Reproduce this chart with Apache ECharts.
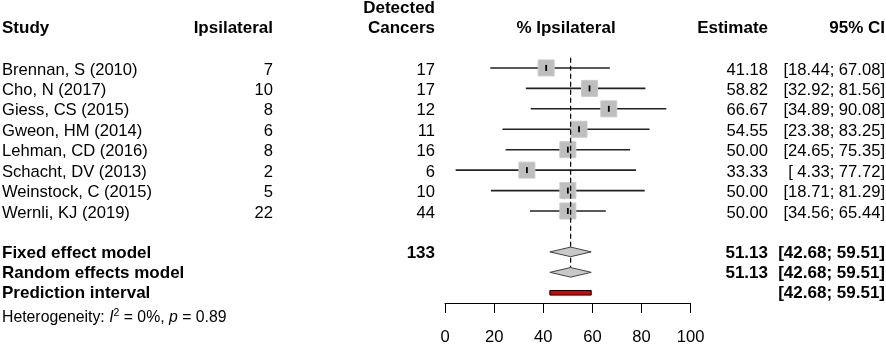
<!DOCTYPE html>
<html><head><meta charset="utf-8">
<script src="https://cdn.jsdelivr.net/npm/echarts@6/dist/echarts.min.js"></script>
<style>html,body{margin:0;padding:0;background:#fff}#c{width:886px;height:346px}</style>
</head><body><div id="c"></div><script>
// ---- data ----
const studies = ['Brennan, S (2010)', 'Cho, N (2017)', 'Giess, CS (2015)', 'Gweon, HM (2014)', 'Lehman, CD (2016)', 'Schacht, DV (2013)', 'Weinstock, C (2015)', 'Wernli, KJ (2019)'];
const ipsilateral = [7, 10, 8, 6, 8, 2, 5, 22];
const detected = [17, 17, 12, 11, 16, 6, 10, 44];
const estimate = [41.18, 58.82, 66.67, 54.55, 50.00, 33.33, 50.00, 50.00];
const ciLower = [18.44, 32.92, 34.89, 23.38, 24.65, 4.33, 18.71, 34.56];
const ciUpper = [67.08, 81.56, 90.08, 83.25, 75.35, 77.72, 81.29, 65.44];
const summaryLabels = ['Fixed effect model', 'Random effects model', 'Prediction interval'];
const summaryTotal = [133, null, null];
const summaryEstimate = [51.13, 51.13, null];
const summaryLower = [42.68, 42.68, 42.68];
const summaryUpper = [59.51, 59.51, 59.51];
const xTicks = [0, 20, 40, 60, 80, 100];
const i2Percent = 0;
const pValue = 0.89;

// ---- helpers ----
const FONT = '"Liberation Sans", Arial, sans-serif';
const FS = 16.6, FSB = 17;
function f2(v) { return (v < 10 ? ' ' : '') + v.toFixed(2); }
function ci(l, u) { return '[' + f2(l) + '; ' + f2(u) + ']'; }
function txt(x, y, s, align, bold) {
  return { type: 'text', x: x, y: y, style: { text: s, fontFamily: FONT, fontSize: bold ? FSB : FS, fontWeight: bold ? 'bold' : 'normal', fill: '#000', align: align, verticalAlign: 'middle' } };
}
const COL_STUDY = 2, COL_IPS = 273, COL_DET = 435, COL_EST = 768, COL_CI = 885;
const TXT_DY = 2;

const studyData = studies.map((s, i) => [estimate[i], i + 1, ciLower[i], ciUpper[i], i]);
const summaryRows = [10, 11, 12];
const summaryData = summaryLabels.map((s, i) => [summaryEstimate[i] == null ? 0 : summaryEstimate[i], summaryRows[i], summaryLower[i], summaryUpper[i], i]);

const chart = echarts.init(document.getElementById('c'), null, { renderer: 'canvas' });
chart.setOption({
  animation: false,
  backgroundColor: '#fff',
  grid: { left: 445, right: 195.3, top: 47.5, bottom: 38.4 },
  xAxis: {
    type: 'value', min: xTicks[0], max: xTicks[xTicks.length - 1], interval: xTicks[1] - xTicks[0],
    position: 'bottom',
    axisLine: { show: true, onZero: false, lineStyle: { color: '#000', width: 1 } },
    axisTick: { show: true, inside: false, length: 10, lineStyle: { color: '#000', width: 1 } },
    axisLabel: { color: '#000', fontSize: FS, fontFamily: FONT, margin: 26 },
    splitLine: { show: false }
  },
  yAxis: { type: 'value', inverse: true, min: 0, max: 12.5, show: false },
  graphic: [
    txt(COL_STUDY, 28, 'Study', 'left', true),
    txt(COL_IPS, 28, 'Ipsilateral', 'right', true),
    txt(COL_DET, 8.5, 'Detected', 'right', true),
    txt(COL_DET, 28, 'Cancers', 'right', true),
    txt(566, 28, '% Ipsilateral', 'center', true),
    txt(COL_EST, 28, 'Estimate', 'right', true),
    txt(COL_CI, 28, '95% CI', 'right', true),
    {
      type: 'text', x: 2, y: 318,
      style: {
        text: '{n|Heterogeneity: }{i|I}{s|2}{n| = ' + i2Percent + '%, }{i|p}{n| = ' + pValue.toFixed(2) + '}',
        verticalAlign: 'middle', align: 'left',
        rich: {
          n: { fontFamily: FONT, fontSize: 15.8, fill: '#000', lineHeight: 20 },
          i: { fontFamily: FONT, fontSize: 15.8, fontStyle: 'italic', fill: '#000', lineHeight: 20 },
          s: { fontFamily: FONT, fontSize: 10.5, fill: '#000', verticalAlign: 'top', lineHeight: 15 }
        }
      }
    }
  ],
  series: [
    {
      type: 'custom', clip: false, data: studyData,
      renderItem: function (params, api) {
        const i = api.value(4), row = api.value(1);
        const y = api.coord([0, row])[1];
        const xl = api.coord([api.value(2), row])[0];
        const xu = api.coord([api.value(3), row])[0];
        const xe = api.coord([api.value(0), row])[0];
        const sz = 16;
        const ty = y + TXT_DY;
        return {
          type: 'group', children: [
            { type: 'line', shape: { x1: xl, y1: y, x2: xu, y2: y }, style: { stroke: '#222', lineWidth: 1.6 } },
            { type: 'rect', shape: { x: xe - sz / 2, y: y - sz / 2, width: sz, height: sz }, style: { fill: '#bebebe', stroke: '#cacaca', lineWidth: 1 } },
            { type: 'line', shape: { x1: xe, y1: y - 3, x2: xe, y2: y + 3 }, style: { stroke: '#000', lineWidth: 1.8 } },
            txt(COL_STUDY, ty, studies[i], 'left', false),
            txt(COL_IPS, ty, String(ipsilateral[i]), 'right', false),
            txt(COL_DET, ty, String(detected[i]), 'right', false),
            txt(COL_EST, ty, estimate[i].toFixed(2), 'right', false),
            txt(COL_CI, ty, ci(ciLower[i], ciUpper[i]), 'right', false)
          ]
        };
      }
    },
    {
      type: 'custom', clip: false, data: [[summaryEstimate[0], 0.5, 10.77]],
      renderItem: function (params, api) {
        const x = api.coord([api.value(0), api.value(1)])[0];
        const y1 = api.coord([0, api.value(1)])[1];
        const y2 = api.coord([0, api.value(2)])[1];
        return { type: 'line', shape: { x1: x, y1: y1, x2: x, y2: y2 }, style: { stroke: '#000', lineWidth: 1.2, lineDash: [5, 3] } };
      }
    },
    {
      type: 'custom', clip: false, data: summaryData,
      renderItem: function (params, api) {
        const i = api.value(4), row = api.value(1);
        const y = api.coord([0, row])[1];
        const xl = api.coord([api.value(2), row])[0];
        const xu = api.coord([api.value(3), row])[0];
        const ty = y + TXT_DY - 1;
        const ch = [];
        if (summaryEstimate[i] != null) {
          const xe = api.coord([api.value(0), row])[0];
          const h = 4.8;
          ch.push({ type: 'polygon', shape: { points: [[xl, y], [xe, y - h], [xu, y], [xe, y + h]] }, style: { fill: '#c8c8c8', stroke: '#444', lineWidth: 1 } });
          ch.push(txt(COL_EST, ty, summaryEstimate[i].toFixed(2), 'right', true));
        } else {
          ch.push({ type: 'rect', shape: { x: xl, y: y - 2.3, width: xu - xl, height: 4.6 }, style: { fill: '#dd0000', stroke: '#000', lineWidth: 1 } });
        }
        ch.push(txt(COL_STUDY, ty, summaryLabels[i], 'left', true));
        if (summaryTotal[i] != null) ch.push(txt(COL_DET, ty, String(summaryTotal[i]), 'right', true));
        ch.push(txt(COL_CI, ty, ci(summaryLower[i], summaryUpper[i]), 'right', true));
        return { type: 'group', children: ch };
      }
    }
  ]
});
</script></body></html>
